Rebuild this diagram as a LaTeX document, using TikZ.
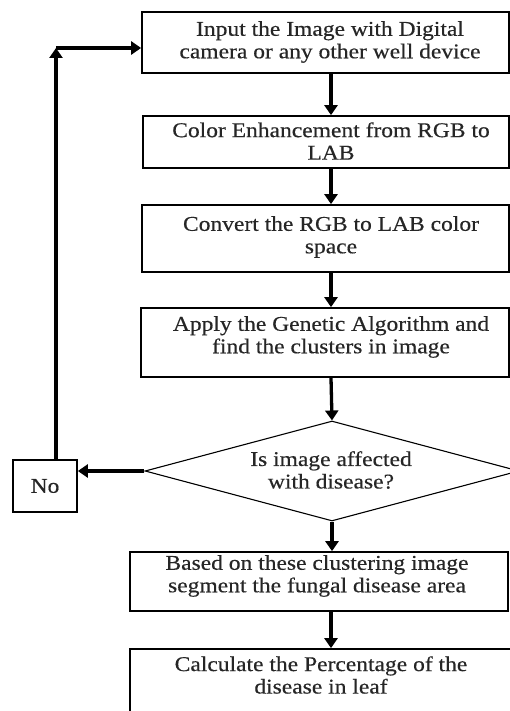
\documentclass[tikz,border=0pt]{standalone}
\usepackage{fontspec}
\setmainfont[FakeStretch=1.12,FakeBold=0.4]{Liberation Serif}
\usetikzlibrary{arrows.meta,shapes.geometric}
\begin{document}
\begin{tikzpicture}[x=1pt,y=-1pt,
  box/.style={draw, line width=1.7pt, inner sep=0pt},
  txt/.style={align=center, font=\fontsize{21}{22.5}\selectfont, inner sep=0pt, text=black!85},
  arr/.style={line width=3.3pt, -{Triangle[length=10pt,width=13pt]}}]
\useasboundingbox (0,0) rectangle (510,711);
\clip (0,0) rectangle (510,711);
% boxes
\node[box, minimum width=367pt, minimum height=61pt] (b1) at (325.5,42.5) {};
\node[box, minimum width=366pt, minimum height=52pt] (b2) at (326,142) {};
\node[box, minimum width=367pt, minimum height=67pt] (b3) at (325.5,238.5) {};
\node[box, minimum width=368pt, minimum height=69pt] (b4) at (325,342.5) {};
\node[draw, line width=1.1pt, diamond, inner sep=0pt, minimum width=374pt, minimum height=100pt] (d) at (332,471) {};
\node[box, minimum width=64pt, minimum height=52pt] (no) at (45,486) {};
\node[box, minimum width=378pt, minimum height=59pt] (b5) at (319,581.5) {};
\node[box, minimum width=382pt, minimum height=66pt] (b6) at (321,682) {};
% texts
\node[txt] (t1) at (330,42) {Input the Image with Digital\\camera or any other well device};
\node[txt] (t2) at (331,141) {Color Enhancement from RGB to\\LAB};
\node[txt] (t3) at (331,237) {Convert the RGB to LAB color\\space};
\node[txt] (t4) at (331,337) {Apply the Genetic Algorithm and\\find the clusters in image};
\node[txt] (t5) at (331,470) {Is image affected\\with disease?};
\node[txt] (t6) at (317,576) {Based on these clustering image\\segment the fungal disease area};
\node[txt] (t7) at (321,675) {Calculate the Percentage of the\\disease in leaf};
\node[txt] (t8) at (45,486) {No};
% axis coordinate
\coordinate (ax) at (331,0);
\coordinate (corner) at (56,48);
% connectors
\draw[arr] (b1.south -| ax) -- (b2.north -| ax);
\draw[arr] (b2.south -| ax) -- (b3.north -| ax);
\draw[arr] (b3.south -| ax) -- (b4.north -| ax);
\draw[arr] (b4.south -| ax) -- (d.north);
\draw[arr] (d.south) -- (b5.north -| d.south);
\draw[arr] (b5.south -| ax) -- (b6.north -| ax);
\draw[arr] (d.west) -- (d.west -| no.east);
\draw[arr] (no.north -| corner) -- (corner);
\draw[arr] (corner) -- (b1.west |- corner);
\end{tikzpicture}
\end{document}
